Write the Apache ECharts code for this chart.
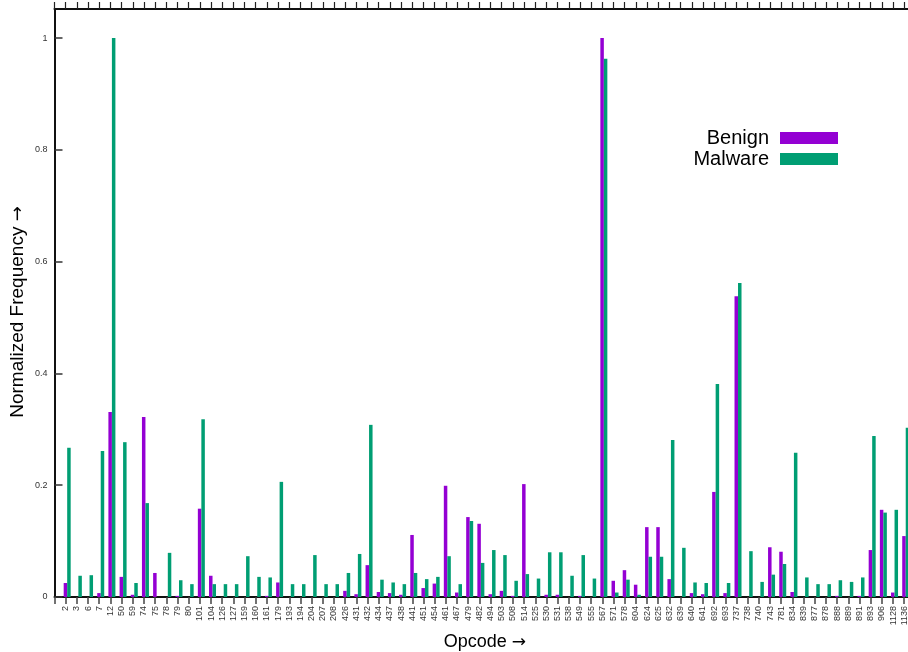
<!DOCTYPE html>
<html>
<head>
<meta charset="utf-8">
<script src="https://cdn.jsdelivr.net/npm/echarts@6/dist/echarts.min.js"></script>
<style>
  html, body { margin: 0; padding: 0; background: #fff; }
  #chart { width: 908px; height: 652px; }
</style>
</head>
<body>
<div id="chart"></div>
<script>
// Opcode categories along the x axis
const opcodes = ['2','3','6','7','12','50','59','74','75','78','79','80','101','104','126','127',
  '159','160','161','179','193','194','204','207','208','426','431','432','434','437','438','441',
  '451','454','461','467','479','482','494','503','508','514','525','530','531','538','549','555',
  '567','571','578','604','624','625','632','639','640','641','692','693','737','738','740','743',
  '781','834','839','877','878','888','889','891','893','906','1128','1136'];

// Normalized opcode frequency in benign samples
const benign = [0.025,0,0,0.007,0.331,0.036,0.004,0.322,0.043,0,0.002,0,0.158,0.038,0,0,
  0,0,0.002,0.026,0,0,0,0,0,0.011,0.005,0.057,0.009,0.007,0.004,0.111,
  0.016,0.024,0.199,0.008,0.143,0.131,0.005,0.011,0.002,0.202,0,0.004,0.004,0,0.002,0,
  1.0,0.029,0.048,0.022,0.125,0.125,0.032,0,0.007,0.005,0.188,0.007,0.538,0,0,0.089,
  0.081,0.009,0,0,0,0.002,0,0.002,0.084,0.156,0.008,0.109];

// Normalized opcode frequency in malware samples
const malware = [0.267,0.038,0.039,0.261,1.0,0.277,0.025,0.168,0,0.079,0.030,0.023,0.318,0.023,0.023,0.023,
  0.073,0.036,0.035,0.206,0.023,0.023,0.075,0.023,0.023,0.043,0.077,0.308,0.031,0.026,0.023,0.043,
  0.032,0.036,0.073,0.023,0.136,0.061,0.084,0.075,0.029,0.041,0.033,0.080,0.080,0.038,0.075,0.033,
  0.963,0.008,0.031,0.004,0.072,0.072,0.281,0.088,0.026,0.025,0.381,0.025,0.562,0.082,0.027,0.040,
  0.059,0.258,0.035,0.023,0.023,0.030,0.027,0.035,0.288,0.151,0.156,0.303];

const yTicks = [0, 0.2, 0.4, 0.6, 0.8, 1];

// One empty slot on each side of the opcode list keeps the first bar pair off the y axis
const cats = [''].concat(opcodes, ['']);
const pad = arr => ['-'].concat(arr, ['-']);

const BENIGN = '#9400D3';
const MALWARE = '#009E73';
const FONT = '"Liberation Sans", Arial, Helvetica, sans-serif';
const ARROW_FONT = '"DejaVu Sans", sans-serif';

const chart = echarts.init(document.getElementById('chart'), null, { renderer: 'canvas' });

const legendCommon = {
  orient: 'vertical',
  right: 70,
  itemWidth: 58,
  itemHeight: 12,
  align: 'right',
  icon: 'rect',
  selectedMode: false,
  textStyle: { fontFamily: FONT, fontSize: 20, color: '#000', padding: [0, 6, 0, 0] },
  padding: 0
};

chart.setOption({
  animation: false,
  backgroundColor: '#fff',
  textStyle: { fontFamily: FONT },
  grid: { left: 54.5, top: 9, width: 860.9, height: 588, containLabel: false, outerBoundsMode: 'none' },
  legend: [
    Object.assign({}, legendCommon, { top: 128, data: ['Benign'] }),
    Object.assign({}, legendCommon, { top: 149, data: ['Malware'] })
  ],
  xAxis: [
    {
      type: 'category',
      data: cats,
      boundaryGap: false,
      position: 'bottom',
      name: 'Opcode {a|\u2192}',
      nameLocation: 'middle',
      nameGap: 31,
      nameTextStyle: {
        fontFamily: FONT, fontSize: 18, color: '#000',
        rich: { a: { fontFamily: ARROW_FONT, fontSize: 17, color: '#000' } }
      },
      axisLine: { show: true, lineStyle: { color: '#111', width: 2 } },
      axisTick: { show: true, inside: false, length: 7, interval: 0, lineStyle: { color: '#444', width: 1.5 } },
      axisLabel: { show: true, interval: 0, rotate: 90, margin: 9, fontSize: 9, color: '#333', fontFamily: FONT },
      splitLine: { show: false }
    },
    {
      type: 'category',
      data: cats,
      boundaryGap: false,
      position: 'top',
      axisLine: { show: true, lineStyle: { color: '#111', width: 2 } },
      axisTick: { show: true, inside: false, length: 7, interval: 0, lineStyle: { color: '#222', width: 1.2 } },
      axisLabel: { show: false },
      splitLine: { show: false }
    }
  ],
  yAxis: {
    type: 'value',
    min: 0,
    max: 1.052,
    interval: 0.2,
    name: 'Normalized Frequency {a|\u2192}',
    nameLocation: 'middle',
    nameMoveOverlap: false,
    nameGap: 27,
    nameTextStyle: {
      fontFamily: FONT, fontSize: 19, color: '#000',
      padding: [0, 18, 0, 0],
      rich: { a: { fontFamily: ARROW_FONT, fontSize: 18, color: '#000' } }
    },
    axisLine: { show: true, lineStyle: { color: '#111', width: 2 } },
    axisTick: { show: true, inside: true, length: 8, lineStyle: { color: '#333', width: 1.5 } },
    axisLabel: {
      margin: 7, fontSize: 9, color: '#333', fontFamily: FONT, showMaxLabel: false,
      formatter: v => (yTicks.some(t => Math.abs(t - v) < 1e-9) ? String(+v.toFixed(1)) : '')
    },
    splitLine: { show: false }
  },
  series: [
    {
      // narrow empty lead slot so each bar pair sits just right of its tick
      name: 'lead',
      type: 'bar',
      data: [],
      barWidth: 3,
      barGap: '0%',
      silent: true
    },
    {
      name: 'Benign',
      type: 'bar',
      data: pad(benign),
      barWidth: 3.5,
      barGap: '0%',
      clip: false,
      itemStyle: { color: BENIGN }
    },
    {
      name: 'Malware',
      type: 'bar',
      data: pad(malware),
      barWidth: 3.5,
      barGap: '0%',
      clip: false,
      itemStyle: { color: MALWARE }
    }
  ]
});
</script>
</body>
</html>
